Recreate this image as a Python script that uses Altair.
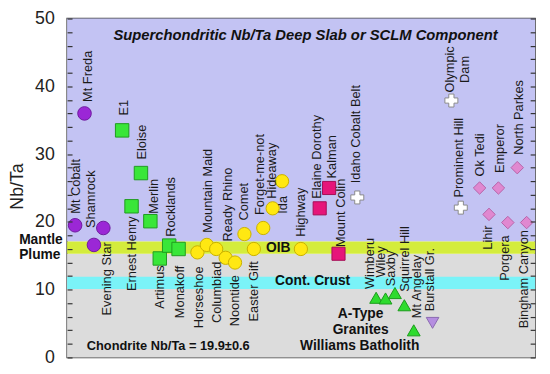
import altair as alt
import pandas as pd

FONT = "Liberation Sans"

# ---- deposits ----
names = ["Mt Cobalt", "Mt Freda", "Evening Star", "Shamrock",
         "E1", "Ernest Henry", "Eloise", "Merlin", "Artimus", "Rocklands", "Monakoff",
         "Horseshoe", "Mountain Maid", "Columbiad", "Ready Rhino", "Noontide", "Comet",
         "Easter Gift", "Forget-me-not", "Hideaway", "Ida", "Highway",
         "Elaine Dorothy", "Kalman", "Mount Colin", "Idaho Cobalt Belt",
         "Wimberu", "Wiley", "Saxby", "Squirrel Hill", "Mt Angelay", "Burstall Gr.",
         "Olympic Dam", "Prominent Hill",
         "Ok Tedi", "Lihir", "Emperor", "Porgera", "North Parkes", "Bingham Canyon"]
groups = ["purple"] * 4 + ["green"] * 7 + ["yellow"] * 11 + ["magenta"] * 3 + ["cross"] + \
         ["tri"] * 5 + ["tridown"] + ["cross"] * 2 + ["diamond"] * 6
xpos = [0, 1, 2, 3,
        5, 6, 7, 8, 9, 10, 11,
        13, 14, 15, 16, 17, 18, 19, 20, 21, 22, 24,
        26, 27, 28, 30,
        32, 33, 34, 35, 36, 38,
        40, 41,
        43, 44, 45, 46, 47, 48]
nbta = [19.5, 36.0, 16.6, 19.1,
        33.5, 22.3, 27.2, 20.1, 14.6, 16.5, 16.0,
        15.5, 16.6, 16.0, 14.7, 14.0, 18.2, 16.0, 19.1, 22.0, 26.0, 16.0,
        22.0, 25.0, 15.3, 23.6,
        8.8, 8.7, 9.5, 7.7, 4.0, 5.1,
        37.9, 22.1,
        25.0, 21.1, 25.0, 19.9, 28.0, 19.9]
# label anchors (start of rotated text)
label_x = [0.1, 1.35, 3.35, 1.7,
           5.25, 6.1, 7.1, 8.4, 9.0, 10.15, 11.2,
           13.2, 14.15, 15.1, 16.25, 17.0, 18.0, 19.05, 19.7, 20.95, 22.1, 24.0,
           25.75, 27.35, 28.25, 29.85,
           31.4, 32.55, 33.6, 35.1, 36.35, 37.7,
           None, 40.85,
           43.05, 43.9, 45.15, 45.75, 47.2, 47.75]
label_y = [21.2, 37.7, 6.2, 19.1,
           35.7, 9.8, 29.2, 21.2, 7.2, 17.8, 5.8,
           4.3, 18.4, 5.1, 17.1, 4.6, 20.2, 5.3, 21.0, 23.4, 21.2, 17.8,
           23.4, 26.4, 16.3, 25.7,
           10.1, 11.8, 10.5, 9.7, 5.8, 6.8,
           None, 23.6,
           26.7, 15.9, 27.2, 11.3, 29.9, 4.3]

# ---- reference bands ----
band_lo = [17.1, 0.0, 15.3, 10.1]
band_hi = [50.0, 15.3, 17.1, 11.9]
band_col = ["#c3c3f3", "#dcdcdc", "#d4ec3c", "#7af3f8"]

# ---- annotations ----
ann_text = ["OIB", "Cont. Crust", "A-Type", "Granites", "Williams Batholith",
            "Chondrite Nb/Ta = 19.9±0.6"]
ann_x = [21.6, 25.25, 30.35, 30.35, 30.25, 9.9]
ann_y = [16.2, 11.3, 6.35, 4.05, 1.75, 1.75]
ann_size = [14, 14, 14, 14, 14, 13]

side_text = ["Mantle", "Plume"]
side_x = [-5.95, -5.95]
side_y = [17.3, 15.1]

title_text = ["Superchondritic Nb/Ta Deep Slab or SCLM Component"]
title_x = [24.5]
title_y = [47.6]

olympic_text = ["Olympic\nDam"]
olympic_x = [39.85]
olympic_y = [42.5]

group_dom = ["purple", "green", "yellow", "magenta", "cross", "tri", "tridown", "diamond"]
shape_rng = ["circle", "square", "circle", "square", "cross", "triangle-up", "triangle-down", "diamond"]
fill_rng = ["#9b27d6", "#39e639", "#ffe812", "#e6157a", "#ffffff", "#2edb2e", "#b58ee0", "#e088d0"]
stroke_rng = ["#6e1a9e", "#1f9a1f", "#c9b000", "#a50d55", "#8a8a8a", "#1a9a1a", "#8a6ab0", "#b564a8"]
size_rng = [190, 160, 165, 145, 210, 165, 165, 130]

pts = pd.DataFrame({"name": names, "group": groups, "x": xpos, "y": nbta,
                    "lx": label_x, "ly": label_y})
bands = pd.DataFrame({"lo": band_lo, "hi": band_hi, "col": band_col})
ann = pd.DataFrame({"t": ann_text, "x": ann_x, "y": ann_y, "s": ann_size})
side = pd.DataFrame({"t": side_text, "x": side_x, "y": side_y})
ttl = pd.DataFrame({"t": title_text, "x": title_x, "y": title_y})
oly = pd.DataFrame({"t": olympic_text, "x": olympic_x, "y": olympic_y})

xs = alt.Scale(domain=[-0.85, 48.9], nice=False, zero=False)
ys = alt.Scale(domain=[0, 50], nice=False, zero=False)
tick_vals = list(range(0, 51, 2))

left_axis = alt.Axis(values=tick_vals, labelExpr="datum.value % 10 === 0 ? datum.label : ''",
                     tickSize=5, offset=-5, domain=False, grid=False, tickColor="#333",
                     tickWidth=1.2, zindex=2,
                     labelFont=FONT, labelFontSize=18, labelColor="#222", labelPadding=13,
                     title="Nb/Ta", titleFont=FONT, titleFontSize=18, titleFontWeight="normal",
                     titleColor="#222", titleX=-55, titleY=170, titleAngle=270,
                     titleBaseline="middle", titleAlign="center")
right_axis = alt.Axis(orient="right", values=tick_vals, labels=False, tickSize=5, offset=-5,
                      domain=False, grid=False, tickColor="#333", tickWidth=1.2, zindex=2,
                      title=None)

bg = alt.Chart(bands).mark_rect().encode(
    y=alt.Y("lo:Q", scale=ys, axis=left_axis),
    y2="hi:Q",
    color=alt.Color("col:N", scale=None),
)
bg_right = alt.Chart(bands).mark_rect(opacity=0).encode(
    y=alt.Y("lo:Q", scale=ys, axis=right_axis),
    y2="hi:Q",
)

points = alt.Chart(pts).mark_point(filled=True, strokeWidth=1, opacity=1).encode(
    x=alt.X("x:Q", scale=xs, axis=None),
    y=alt.Y("y:Q", scale=ys, axis=None),
    shape=alt.Shape("group:N", scale=alt.Scale(domain=group_dom, range=shape_rng), legend=None),
    fill=alt.Fill("group:N", scale=alt.Scale(domain=group_dom, range=fill_rng), legend=None),
    stroke=alt.Stroke("group:N", scale=alt.Scale(domain=group_dom, range=stroke_rng), legend=None),
    size=alt.Size("group:N", scale=alt.Scale(domain=group_dom, range=size_rng), legend=None),
)

labels = alt.Chart(pts).transform_filter("datum.lx != null").mark_text(
    angle=270, align="left", baseline="middle", font=FONT, fontSize=13, color="#1a1a1a"
).encode(
    x=alt.X("lx:Q", scale=xs, axis=None),
    y=alt.Y("ly:Q", scale=ys, axis=None),
    text="name:N",
)

oly_lab = alt.Chart(oly).mark_text(
    angle=270, align="center", baseline="middle", font=FONT, fontSize=13,
    color="#1a1a1a", lineBreak="\n", lineHeight=15
).encode(
    x=alt.X("x:Q", scale=xs, axis=None),
    y=alt.Y("y:Q", scale=ys, axis=None),
    text="t:N",
)

annos = alt.Chart(ann).mark_text(
    align="center", baseline="middle", font=FONT, fontWeight="bold", color="#111"
).encode(
    x=alt.X("x:Q", scale=xs, axis=None),
    y=alt.Y("y:Q", scale=ys, axis=None),
    text="t:N",
    size=alt.Size("s:Q", scale=None, legend=None),
)

side_lab = alt.Chart(side).mark_text(
    align="left", baseline="middle", font=FONT, fontWeight="bold", fontSize=14, color="#111"
).encode(
    x=alt.X("x:Q", scale=xs, axis=None),
    y=alt.Y("y:Q", scale=ys, axis=None),
    text="t:N",
)

title_lab = alt.Chart(ttl).mark_text(
    align="center", baseline="middle", font=FONT, fontWeight="bold", fontStyle="italic",
    fontSize=15, color="#111"
).encode(
    x=alt.X("x:Q", scale=xs, axis=None),
    y=alt.Y("y:Q", scale=ys, axis=None),
    text="t:N",
)

chart = alt.layer(bg, bg_right, points, labels, oly_lab, annos, side_lab, title_lab).resolve_axis(
    y="independent", x="independent"
).properties(
    width=475, height=344,
    autosize=alt.AutoSizeParams(type="none"),
    padding={"left": 60, "top": 8, "right": 7, "bottom": 6},
).configure_view(stroke="#444", strokeWidth=1.5)

chart.save("out.html", embed_options={"renderer": "svg", "actions": False})
